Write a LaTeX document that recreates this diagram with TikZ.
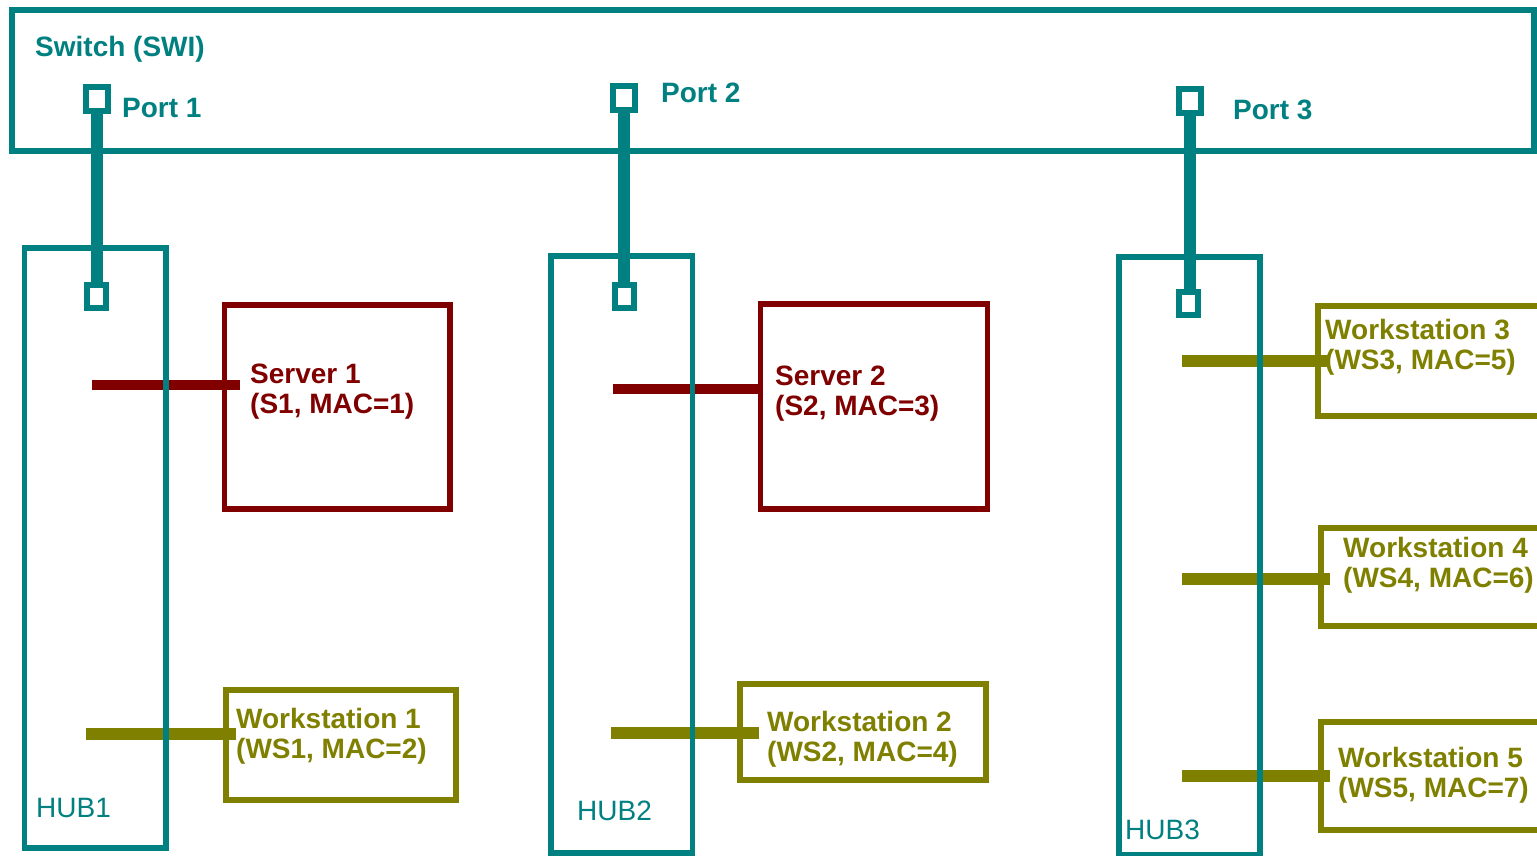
\documentclass[tikz,border=0pt]{standalone}
\usepackage{fontspec}
\setmainfont{Liberation Sans}
\definecolor{hubcol}{RGB}{0,128,128}
\definecolor{srvcol}{RGB}{128,0,0}
\definecolor{wscol}{RGB}{128,128,0}
\usepackage{tikz}
\usetikzlibrary{calc}
\tikzset{
  netbox/.style={draw=hubcol, line width=5.5pt, inner sep=0pt, outer sep=0pt},
  portsq/.style={draw=hubcol, line width=6pt, fill=white, inner sep=0pt, outer sep=0pt,
              minimum width=22pt, minimum height=24pt},
  hubsq/.style={draw=hubcol, line width=6pt, fill=white, inner sep=0pt, outer sep=0pt,
              minimum width=19pt, minimum height=23pt},
  srvbox/.style={draw=srvcol, line width=5.5pt, inner sep=0pt, outer sep=0pt},
  wsbox/.style={draw=wscol, line width=6pt, inner sep=0pt, outer sep=0pt},
  uplink/.style={hubcol, line width=12pt},
  srvlink/.style={srvcol, line width=10pt},
  wslink/.style={wscol, line width=12pt},
  lbl/.style={font=\fontsize{28}{30}\selectfont\bfseries, inner sep=0pt,
              anchor=west, align=left},
  hublbl/.style={lbl, font=\fontsize{28}{30}\selectfont, text=hubcol},
}

\begin{document}
\begin{tikzpicture}[x=1pt,y=-1pt]
        \useasboundingbox (0,0) rectangle (1537,856);
        \clip (0,0) rectangle (1537,856);
        \fill[white] (0,0) rectangle (1537,856);
        \node[netbox, minimum width=1522pt, minimum height=141pt] (swi) at (773,80.5) {};
        \node[lbl, text=hubcol] (swilbl) at (35,49) {Switch (SWI)};
        \node[portsq] (p1) at (96.5,99) {};
        \node[portsq] (p2) at (624,98.5) {};
        \node[portsq] (p3) at (1189.5,101) {};
        \node[lbl, text=hubcol] (p1lbl) at (122,108) {Port 1};
        \node[lbl, text=hubcol] (p2lbl) at (661,93) {Port 2};
        \node[lbl, text=hubcol] (p3lbl) at (1233,110) {Port 3};
        \node[srvbox, minimum width=225.5pt, minimum height=204pt] (srv1) at (337.25,407) {};
        \node[srvbox, minimum width=227pt, minimum height=205pt] (srv2) at (874,406.5) {};
        \node[wsbox, minimum width=230pt, minimum height=110pt] (ws1) at (341,745) {};
        \node[wsbox, minimum width=245.5pt, minimum height=96pt] (ws2) at (862.75,732) {};
        \node[wsbox, minimum width=242pt, minimum height=110.5pt] (ws3) at (1439,360.75) {};
        \node[wsbox, minimum width=239pt, minimum height=98pt] (ws4) at (1440.5,577) {};
        \node[wsbox, minimum width=239pt, minimum height=108pt] (ws5) at (1440.5,776) {};
        \coordinate (t1) at (92,385);
        \coordinate (t2) at (613,389);
        \coordinate (t3) at (86,733.5);
        \coordinate (t4) at (611,733);
        \coordinate (t5) at (1182,360.5);
        \coordinate (t6) at (1182,579);
        \coordinate (t7) at (1182,775.5);
        \draw[srvlink] (t1) -- (t1 -| srv1.west) -- ++(15.5,0);
        \draw[srvlink] (t2) -- (t2 -| srv2.west);
        \draw[wslink] (t3) -- (t3 -| ws1.west) -- ++(10,0);
        \draw[wslink] (t4) -- (t4 -| ws2.west) -- ++(19,0);
        \draw[wslink] (t5) -- (t5 -| ws3.west) -- ++(12,0);
        \draw[wslink] (t6) -- (t6 -| ws4.west) -- ++(9,0);
        \draw[wslink] (t7) -- (t7 -| ws5.west) -- ++(9,0);
        \node[lbl, text=srvcol] (srv1lbl) at (250,392) {Server 1\\(S1, MAC=1)};
        \node[lbl, text=srvcol] (srv2lbl) at (775,394) {Server 2\\(S2, MAC=3)};
        \node[lbl, text=wscol] (ws1lbl) at (236,736) {Workstation 1\\(WS1, MAC=2)};
        \node[lbl, text=wscol] (ws2lbl) at (767,739) {Workstation 2\\(WS2, MAC=4)};
        \node[lbl, text=wscol] (ws3lbl) at (1325,347) {Workstation 3\\(WS3, MAC=5)};
        \node[lbl, text=wscol] (ws4lbl) at (1343,565.5) {Workstation 4\\(WS4, MAC=6)};
        \node[lbl, text=wscol] (ws5lbl) at (1338,775) {Workstation 5\\(WS5, MAC=7)};
        \node[netbox, minimum width=141.5pt, minimum height=600pt] (hub1) at (95.25,548) {};
        \node[netbox, minimum width=141.5pt, minimum height=597pt] (hub2) at (621.75,554.5) {};
        \node[netbox, minimum width=141pt, minimum height=598pt] (hub3) at (1189.5,556) {};
        \node[hubsq] (h1) at (96,296) {};
        \node[hubsq] (h2) at (624.5,296) {};
        \node[hubsq] (h3) at (1188.5,303) {};
        \draw[uplink] (p1.south) -- (p1.south |- h1.north);
        \draw[uplink] (p2.south) -- (p2.south |- h2.north);
        \draw[uplink] (p3.south) -- (p3.south |- h3.north);
        \node[hublbl] (hub1lbl) at (36,808) {HUB1};
        \node[hublbl] (hub2lbl) at (577,811) {HUB2};
        \node[hublbl] (hub3lbl) at (1125,830) {HUB3};
      \end{tikzpicture}
\end{document}
